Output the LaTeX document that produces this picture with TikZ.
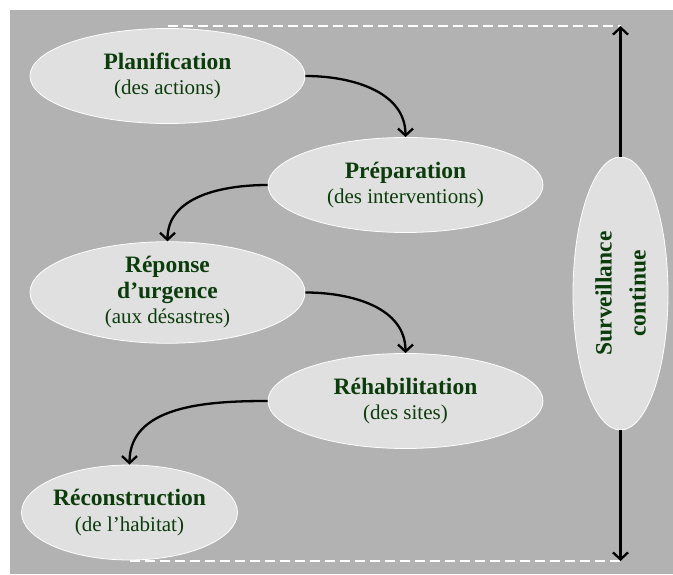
\documentclass[tikz,border=0pt]{standalone}
\usepackage{fontspec}
\setmainfont{Liberation Serif}
\newfontfamily\widefont{Liberation Serif}
\usetikzlibrary{shapes.geometric,arrows.meta}
\definecolor{bg}{RGB}{178,178,178}
\definecolor{ellfill}{RGB}{224,224,224}
\definecolor{txtgreen}{RGB}{12,60,12}
\newcommand\phttl[1]{{\bfseries #1}}
\newcommand\phsub[1]{{\fontsize{21}{25.5}\selectfont #1}}
\begin{document}
\begin{tikzpicture}[x=1pt,y=1pt,
 phase/.style={ellipse, draw=white, line width=0.8pt, fill=ellfill, minimum width=275pt, minimum height=95pt, inner sep=0pt, align=center, text=txtgreen, font=\widefont\fontsize{23.5}{25.5}\selectfont},
 flow/.style={line width=2.3pt, -{Straight Barb[length=7pt,width=15pt,line width=2.3pt]}},
 guide/.style={white, line width=1.3pt, dash pattern=on 10pt off 5pt}
]
\useasboundingbox (0,0) rectangle (673,574);
\fill[bg] (10,0) rectangle (673,564);
\coordinate (topstart) at (167.5,548);
\coordinate (topend) at (620.5,548);
\coordinate (botstart) at (129.5,13);
\coordinate (botend) at (620.5,13);
\draw[guide] (topstart) -- (topend);
\draw[guide] (botstart) -- (botend);
\node[phase] (plan) at (167.5,498) {\phttl{Planification}\\\phsub{(des actions)}};
\node[phase] (prep) at (405.5,389) {\phttl{Préparation}\\\phsub{(des interventions)}};
\node[phase] (rep) at (167.5,281.5) {\phttl{Réponse}\\\phttl{d’urgence}\\\phsub{(aux désastres)}};
\node[phase] (rehab) at (405.5,173) {\phttl{Réhabilitation}\\\phsub{(des sites)}};
\node[phase, minimum width=213pt] (recon) at (129.5,61.5) {\phttl{Réconstruction}\\\phsub{(de l’habitat)}};
\node[phase, rotate=90, minimum width=273pt, minimum height=95pt, font=\widefont\fontsize{23.5}{34}\selectfont] (surv) at (620.5,280.5) {\phttl{Surveillance}\\\phttl{continue}};
\draw[flow] (plan.east) to[out=0,in=90] (prep.north);
\draw[flow] (prep.west) to[out=180,in=90] (rep.north);
\draw[flow] (rep.east) to[out=0,in=90] (rehab.north);
\draw[flow] (rehab.west) to[out=180,in=90] (recon.north);
\draw[flow] (surv.east) -- (topend);
\draw[flow] (surv.west) -- (botend);
\end{tikzpicture}
\end{document}
